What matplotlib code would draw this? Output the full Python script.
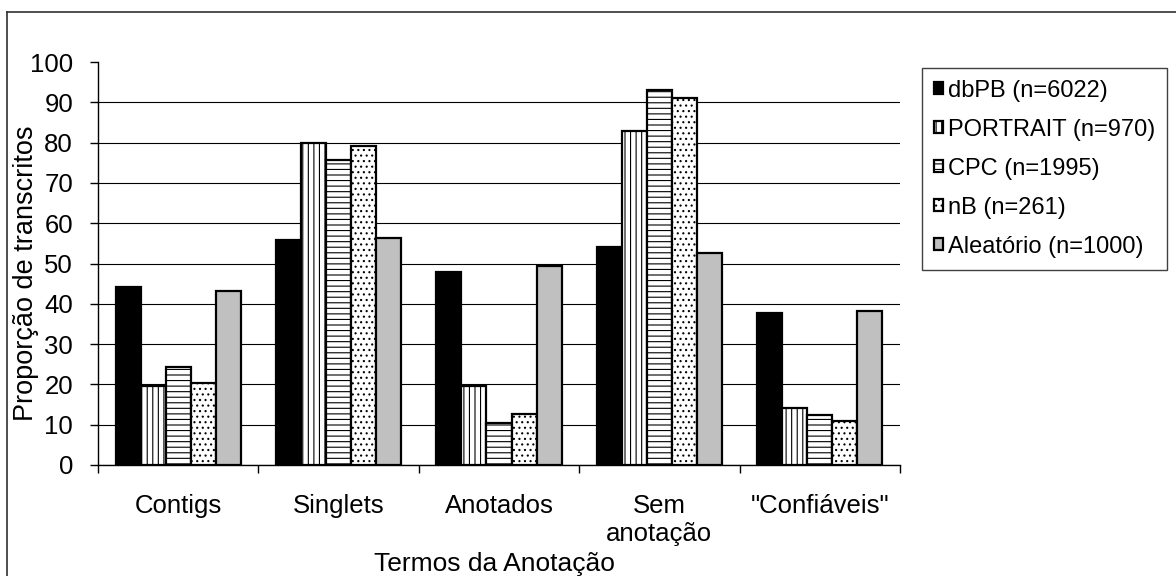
import numpy as np
import matplotlib
matplotlib.use("Agg")
import matplotlib.pyplot as plt
from matplotlib.lines import Line2D

# categories on the x axis
categories = ["Contigs", "Singlets", "Anotados", "Sem\nanotação", '"Confiáveis"']

# one list per data set (proportion of transcripts, %)
dbpb = [44.1, 55.8, 47.9, 54.2, 37.8]
portrait = [19.5, 79.8, 19.5, 82.8, 14.2]
cpc = [24.2, 75.7, 10.3, 93.0, 12.5]
nb = [20.4, 79.2, 12.7, 91.1, 10.8]
aleatorio = [43.3, 56.4, 49.5, 52.5, 38.3]

series_labels = ["dbPB (n=6022)", "PORTRAIT (n=970)", "CPC (n=1995)",
                 "nB (n=261)", "Aleatório (n=1000)"]
y_ticks = list(range(0, 101, 10))

plt.rcParams['font.family'] = ['Liberation Sans', 'DejaVu Sans']
plt.rcParams['hatch.linewidth'] = 0.8

fig = plt.figure(figsize=(11.76, 5.76), dpi=100)
W, H = 1176, 576
ax = fig.add_axes([98 / W, 1 - 465 / H, (900 - 98) / W, (465 - 62) / H])

styles = [
    dict(facecolor="black", hatch=None),
    dict(facecolor="white", hatch="|||"),
    dict(facecolor="white", hatch="---"),
    dict(facecolor="white", hatch="..."),
    dict(facecolor="#c0c0c0", hatch=None),
]

x = np.arange(len(categories))
width = 0.156
handles = []
for i, (vals, lab, st) in enumerate(zip([dbpb, portrait, cpc, nb, aleatorio], series_labels, styles)):
    bars = ax.bar(x + (i - 2) * width, vals, width, label=lab,
                  facecolor=st["facecolor"], hatch=st["hatch"],
                  edgecolor="black", linewidth=1.6, zorder=3)
    handles.append(bars)

# axes setup
ax.set_xlim(-0.5, len(categories) - 0.5)
ax.set_ylim(0, 100)
ax.set_yticks(y_ticks)
ax.tick_params(axis="y", direction="out", length=6, width=1, pad=12, labelsize=18.5)

ax.set_xticks(np.arange(len(categories) + 1) - 0.5)
ax.set_xticklabels([])
ax.set_xticks(x, minor=True)
ax.set_xticklabels(categories, minor=True)
ax.tick_params(axis="x", which="major", direction="out", length=6, width=1)
ax.tick_params(axis="x", which="minor", length=0, pad=21, labelsize=18.5)

for s in ["top", "right"]:
    ax.spines[s].set_visible(False)
for s in ["left", "bottom"]:
    ax.spines[s].set_linewidth(1)

ax.yaxis.grid(True, color="black", linewidth=0.8)
ax.set_axisbelow(True)
# no gridline at the top value
ax.get_ygridlines()[-1].set_visible(False)

fig.text(26 / W, 1 - 273 / H, "Proporção de transcritos", rotation=90,
         ha="center", va="center", fontsize=19.5)
fig.text(494 / W, 1 - 564 / H, "Termos da Anotação", ha="center", va="center",
         fontsize=19)

leg = ax.legend(handles=handles, loc="upper left",
                bbox_to_anchor=(922 / W, 1 - 68 / H), bbox_transform=fig.transFigure,
                borderaxespad=0, fancybox=False, framealpha=1, fontsize=17,
                handlelength=0.4, handleheight=0.4, handletextpad=0.2,
                labelspacing=0.72, borderpad=0.5)
leg.get_frame().set_edgecolor("#404040")
leg.get_frame().set_linewidth(1)

# outer chart frame (top and left edges visible)
fig.add_artist(Line2D([7 / W, 1], [1 - 12 / H, 1 - 12 / H], color="#303030", linewidth=1.2))
fig.add_artist(Line2D([7 / W, 7 / W], [0, 1 - 12 / H], color="#303030", linewidth=1.2))

fig.savefig("out.png", dpi=100)
